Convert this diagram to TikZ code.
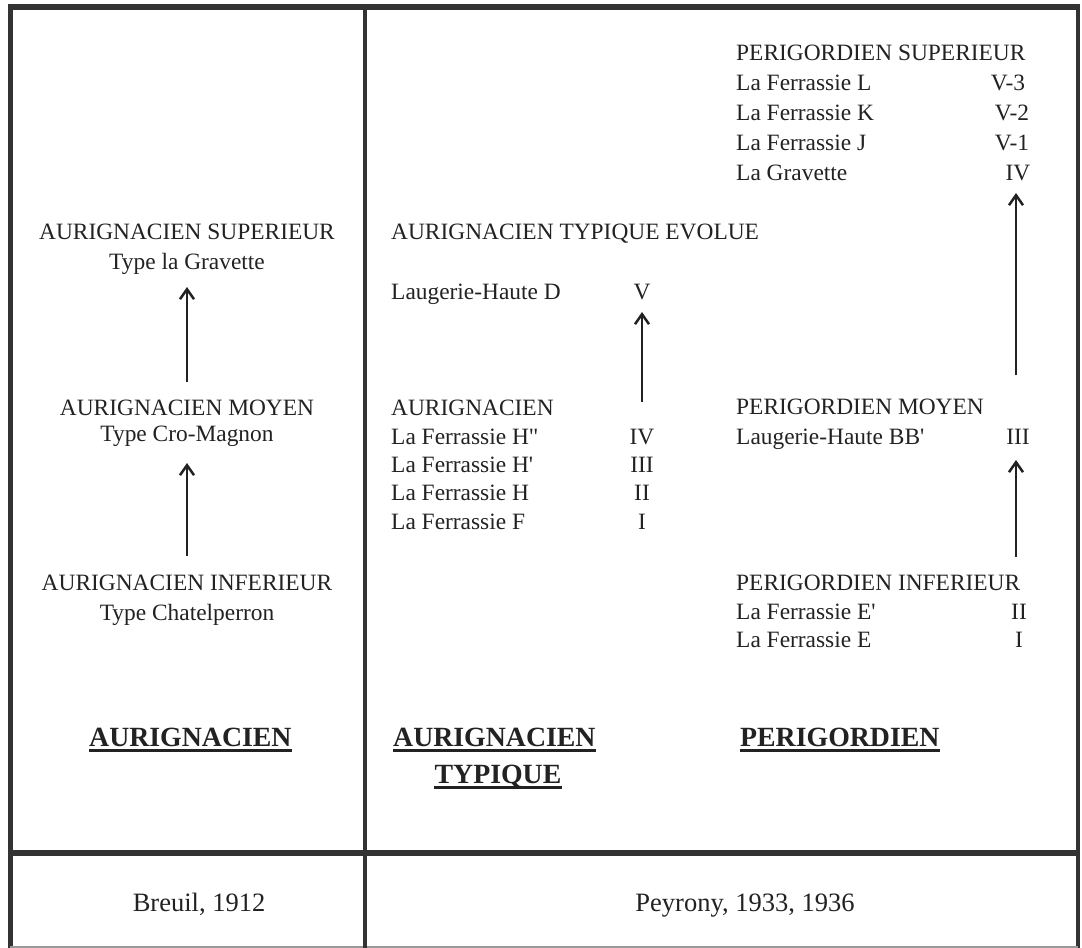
\documentclass[tikz,border=0pt]{standalone}
\usepackage{fontspec}
\setmainfont{Liberation Serif}
\usetikzlibrary{arrows.meta}
\definecolor{ink}{HTML}{222222}
\definecolor{rule}{HTML}{333333}
\begin{document}
\begin{tikzpicture}[x=1pt,y=-1pt,
  txt/.style={font=\fontsize{23.4}{28}\selectfont, text=ink, inner sep=0pt, anchor=base},
  txtl/.style={txt, anchor=base west},
  ttl/.style={font=\fontsize{27.8}{32}\selectfont\bfseries, text=ink, inner sep=0pt, anchor=base west},
  refs/.style={font=\fontsize{26.5}{30}\selectfont, text=ink, inner sep=0pt, anchor=base},
  evo/.style={draw=ink, line width=2.3pt, -{Straight Barb[length=10pt,width=14pt,line width=2.5pt]}},
  uline/.style={draw=ink, line width=2.2pt}]
\useasboundingbox (0,0) rectangle (1082,948);
\fill[white] (0,0) rectangle (1082,948);
% frame
\draw[rule, line width=6.5pt] (7.5,7) -- (1080,7);
\draw[rule, line width=5pt] (10,4) -- (10,948);
\draw[rule, line width=4pt] (1078,4) -- (1078,948);
\draw[rule!50, line width=2pt] (10,946.5) -- (1078,946.5);
\draw[rule, line width=6pt] (7.5,853) -- (1080,853);
\draw[rule, line width=4.5pt] (365,7) -- (365,948);

% left column
\node[txt] (asup) at (187,239) {AURIGNACIEN SUPERIEUR};
\node[txt] (agrav) at (187,269) {Type la Gravette};
\node[txt] (amoy) at (187,415) {AURIGNACIEN MOYEN};
\node[txt] (acro) at (187,441) {Type Cro-Magnon};
\node[txt] (ainf) at (187,590) {AURIGNACIEN INFERIEUR};
\node[txt] (achat) at (187,620) {Type Chatelperron};
\coordinate (l1s) at (187,382); \coordinate (l1e) at (187,287);
\coordinate (l2s) at (187,556); \coordinate (l2e) at (187,463);
\draw[evo] (l1s) -- (l1e);
\draw[evo] (l2s) -- (l2e);

% middle column
\node[txtl] (ate) at (391,239) {AURIGNACIEN TYPIQUE EVOLUE};
\node[txtl] (lhd) at (391,299) {Laugerie-Haute D};
\node[txt] (nV) at (642,299) {V};
\node[txtl] (aur) at (391,415) {AURIGNACIEN};
\node[txtl] (fh2) at (391,444) {La Ferrassie H\textquotedbl};
\node[txt] (nIVm) at (642,444) {IV};
\node[txtl] (fh1) at (391,472) {La Ferrassie H\textquotesingle};
\node[txt] (nIIIm) at (642,472) {III};
\node[txtl] (fh) at (391,500) {La Ferrassie H};
\node[txt] (nIIm) at (642,500) {II};
\node[txtl] (ff) at (391,529) {La Ferrassie F};
\node[txt] (nIm) at (642,529) {I};
\coordinate (m1s) at (642,402); \coordinate (m1e) at (642,312);
\draw[evo] (m1s) -- (m1e);

% right column
\node[txtl] (psup) at (736,60) {PERIGORDIEN SUPERIEUR};
\node[txtl] (fl) at (736,90) {La Ferrassie L};
\node[txt] (nV3) at (1008,90) {V-3};
\node[txtl] (fk) at (736,120) {La Ferrassie K};
\node[txt] (nV2) at (1012,120) {V-2};
\node[txtl] (fj) at (736,150) {La Ferrassie J};
\node[txt] (nV1) at (1012,150) {V-1};
\node[txtl] (lgr) at (736,180) {La Gravette};
\node[txt] (nIVr) at (1018,180) {IV};
\node[txtl] (pmoy) at (736,414) {PERIGORDIEN MOYEN};
\node[txtl] (lhbb) at (736,444) {Laugerie-Haute BB\textquotesingle};
\node[txt] (nIIIr) at (1018,444) {III};
\node[txtl] (pinf) at (736,590) {PERIGORDIEN INFERIEUR};
\node[txtl] (fe1) at (736,619) {La Ferrassie E\textquotesingle};
\node[txt] (nIIr) at (1019,619) {II};
\node[txtl] (fe) at (736,647) {La Ferrassie E};
\node[txt] (nIr) at (1019,647) {I};
\coordinate (r1s) at (1016,375); \coordinate (r1e) at (1016,193);
\coordinate (r2s) at (1016,557); \coordinate (r2e) at (1016,460);
\draw[evo] (r1s) -- (r1e);
\draw[evo] (r2s) -- (r2e);

% titles
\node[ttl] (t1) at (89,746) {AURIGNACIEN};
\node[ttl] (t2) at (393,746) {AURIGNACIEN};
\node[ttl, anchor=base] (t2b) at (498,783) {TYPIQUE};
\node[ttl] (t3) at (740,746) {PERIGORDIEN};
\foreach \t in {t1,t2,t2b,t3}
  \draw[uline] ([yshift=-4.5pt]\t.base west) -- ([yshift=-4.5pt]\t.base east);

% references
\node[refs] (br) at (199,911) {Breuil, 1912};
\node[refs] (pe) at (745,911) {Peyrony, 1933, 1936};
\end{tikzpicture}
\end{document}
